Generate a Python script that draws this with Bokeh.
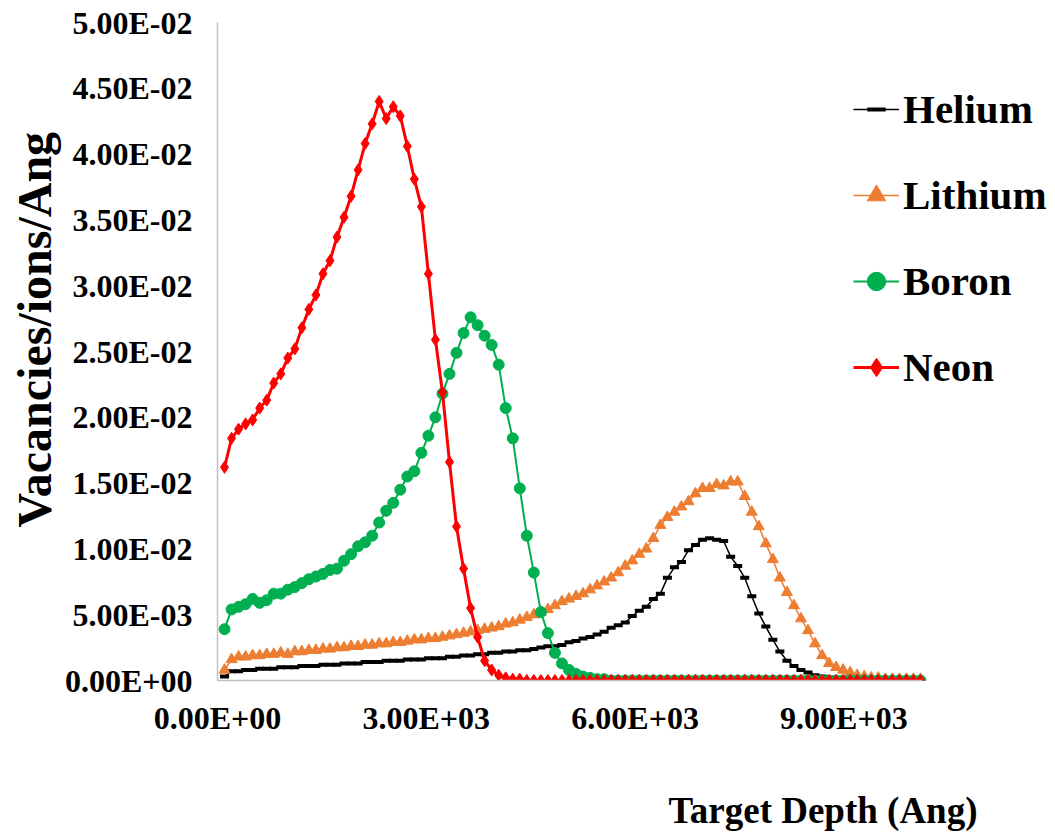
import math
from bokeh.plotting import figure
from bokeh.models import (Range1d, Legend, LegendItem, Title, FixedTicker,
                          CustomJSTickFormatter)
from bokeh.embed import file_html
from bokeh.resources import INLINE

depth = [101, 202, 303, 404, 505, 606, 707, 808, 909, 1010,
         1111, 1212, 1313, 1414, 1515, 1616, 1717, 1818, 1919, 2020,
         2121, 2222, 2323, 2424, 2525, 2626, 2727, 2828, 2929, 3030,
         3131, 3232, 3333, 3434, 3535, 3636, 3737, 3838, 3939, 4040,
         4141, 4242, 4343, 4444, 4545, 4646, 4747, 4848, 4949, 5050,
         5151, 5252, 5353, 5454, 5555, 5656, 5757, 5858, 5959, 6060,
         6161, 6262, 6363, 6464, 6565, 6666, 6767, 6868, 6969, 7070,
         7171, 7272, 7373, 7474, 7575, 7676, 7777, 7878, 7979, 8080,
         8181, 8282, 8383, 8484, 8585, 8686, 8787, 8888, 8989, 9090,
         9191, 9292, 9393, 9494, 9595, 9696, 9797, 9898, 9999, 10100]

helium = [0.0003, 0.0007, 0.0007, 0.0008, 0.0008, 0.0009, 0.0009, 0.0009, 0.0010, 0.0010,
          0.0010, 0.0011, 0.0011, 0.0011, 0.0012, 0.0012, 0.0012, 0.0013, 0.0013, 0.0013,
          0.0014, 0.0014, 0.0014, 0.0015, 0.0015, 0.0015, 0.0016, 0.0016, 0.0016, 0.0017,
          0.0017, 0.0017, 0.0018, 0.0018, 0.0019, 0.0019, 0.0020, 0.0020, 0.0021, 0.0021,
          0.0022, 0.0022, 0.0023, 0.0023, 0.0024, 0.0025, 0.0026, 0.0026, 0.0027, 0.0029,
          0.0030, 0.0032, 0.0033, 0.0035, 0.0037, 0.0040, 0.0042, 0.0044, 0.0049, 0.0053,
          0.0056, 0.0062, 0.0066, 0.0078, 0.0086, 0.0090, 0.0099, 0.0103, 0.0107, 0.0108,
          0.0107, 0.0106, 0.0094, 0.0087, 0.0078, 0.0064, 0.0051, 0.0041, 0.0031, 0.0022,
          0.0015, 0.0011, 0.0008, 0.0006, 0.0004, 0.0003, 0.0002, 0.0002, 0.0001, 0.0001,
          0.0001, 0.0001, 0.0001, 0.0001, 0.0001, 0.0001, 0.0001, 0.0001, 0.0001, 0.0001]

lithium = [0.0008, 0.0016, 0.0018, 0.0018, 0.0019, 0.0019, 0.0020, 0.0020, 0.0021, 0.0020,
           0.0022, 0.0022, 0.0023, 0.0023, 0.0024, 0.0024, 0.0025, 0.0025, 0.0026, 0.0026,
           0.0027, 0.0027, 0.0028, 0.0028, 0.0029, 0.0029, 0.0030, 0.0031, 0.0031, 0.0032,
           0.0032, 0.0033, 0.0034, 0.0035, 0.0036, 0.0037, 0.0038, 0.0039, 0.0040, 0.0041,
           0.0043, 0.0044, 0.0046, 0.0048, 0.0050, 0.0052, 0.0054, 0.0057, 0.0060, 0.0062,
           0.0064, 0.0066, 0.0069, 0.0072, 0.0075, 0.0078, 0.0082, 0.0087, 0.0091, 0.0096,
           0.0100, 0.0108, 0.0118, 0.0124, 0.0128, 0.0132, 0.0136, 0.0142, 0.0146, 0.0146,
           0.0149, 0.0148, 0.0151, 0.0151, 0.0140, 0.0128, 0.0117, 0.0104, 0.0092, 0.0078,
           0.0067, 0.0057, 0.0047, 0.0038, 0.0028, 0.0019, 0.0013, 0.0010, 0.0008, 0.0006,
           0.0004, 0.0003, 0.0002, 0.0002, 0.0001, 0.0001, 0.0001, 0.0001, 0.0001, 0.0001]

boron = [0.0039, 0.0054, 0.0056, 0.0058, 0.0062, 0.0059, 0.0061, 0.0066, 0.0066, 0.0069,
         0.0071, 0.0074, 0.0077, 0.0079, 0.0081, 0.0084, 0.0085, 0.0091, 0.0096, 0.0102,
         0.0105, 0.0110, 0.0120, 0.0129, 0.0135, 0.0145, 0.0155, 0.0159, 0.0173, 0.0186,
         0.0200, 0.0218, 0.0233, 0.0249, 0.0264, 0.0276, 0.0270, 0.0262, 0.0255, 0.0240,
         0.0207, 0.0184, 0.0146, 0.0110, 0.0082, 0.0052, 0.0036, 0.0021, 0.0013, 0.0008,
         0.0005, 0.0003, 0.0002, 0.0001, 0.0001, 0.0000, 0.0000, 0.0000, 0.0000, 0.0000,
         0.0000, 0.0000, 0.0000, 0.0000, 0.0000, 0.0000, 0.0000, 0.0000, 0.0000, 0.0000,
         0.0000, 0.0000, 0.0000, 0.0000, 0.0000, 0.0000, 0.0000, 0.0000, 0.0000, 0.0000,
         0.0000, 0.0000, 0.0000, 0.0000, 0.0000, 0.0000, 0.0000, 0.0000, 0.0000, 0.0000,
         0.0000, 0.0000, 0.0000, 0.0000, 0.0000, 0.0000, 0.0000, 0.0000, 0.0000, 0.0000]

neon = [0.0162, 0.0184, 0.0191, 0.0195, 0.0198, 0.0207, 0.0213, 0.0226, 0.0233, 0.0245,
        0.0252, 0.0268, 0.0282, 0.0293, 0.0309, 0.0319, 0.0337, 0.0352, 0.0368, 0.0388,
        0.0408, 0.0423, 0.0440, 0.0427, 0.0436, 0.0429, 0.0406, 0.0381, 0.0360, 0.0309,
        0.0259, 0.0219, 0.0166, 0.0117, 0.0085, 0.0055, 0.0033, 0.0015, 0.0008, 0.0004,
        0.0002, 0.0001, 0.0001, 0.0000, 0.0000, 0.0000, 0.0000, 0.0000, 0.0000, 0.0000,
        0.0000, 0.0000, 0.0000, 0.0000, 0.0000, 0.0000, 0.0000, 0.0000, 0.0000, 0.0000,
        0.0000, 0.0000, 0.0000, 0.0000, 0.0000, 0.0000, 0.0000, 0.0000, 0.0000, 0.0000,
        0.0000, 0.0000, 0.0000, 0.0000, 0.0000, 0.0000, 0.0000, 0.0000, 0.0000, 0.0000,
        0.0000, 0.0000, 0.0000, 0.0000, 0.0000, 0.0000, 0.0000, 0.0000, 0.0000, 0.0000,
        0.0000, 0.0000, 0.0000, 0.0000, 0.0000, 0.0000, 0.0000, 0.0000, 0.0000, 0.0000]

series_names = ["Helium", "Lithium", "Boron", "Neon"]

x_ticks = [0, 3000, 6000, 9000]
x_tick_labels = ["0.00E+00", "3.00E+03", "6.00E+03", "9.00E+03"]
y_ticks = [0, 0.005, 0.01, 0.015, 0.02, 0.025, 0.03, 0.035, 0.04, 0.045, 0.05]
y_tick_labels = ["0.00E+00", "5.00E-03", "1.00E-02", "1.50E-02", "2.00E-02", "2.50E-02",
                 "3.00E-02", "3.50E-02", "4.00E-02", "4.50E-02", "5.00E-02"]

x_title = "Target Depth (Ang)"
y_title = "Vacancies/ions/Ang"

FONT = "Liberation Serif"

p = figure(width=1055, height=835, output_backend="svg", toolbar_location=None,
           x_range=Range1d(0, 12040), y_range=Range1d(0, 0.05),
           min_border_left=217, min_border_right=0,
           min_border_top=22, min_border_bottom=155)
p.outline_line_color = None
p.xgrid.visible = False
p.ygrid.visible = False
p.background_fill_color = "white"
p.border_fill_color = "white"

fmt_code = """
let best = 0; let bd = Infinity;
for (let i = 0; i < tv.length; i++) {
  const d = Math.abs(tv[i] - tick);
  if (d < bd) { bd = d; best = i; }
}
return tl[best];
"""
p.xaxis.ticker = FixedTicker(ticks=x_ticks)
p.yaxis.ticker = FixedTicker(ticks=y_ticks)
p.xaxis.formatter = CustomJSTickFormatter(args=dict(tv=x_ticks, tl=x_tick_labels), code=fmt_code)
p.yaxis.formatter = CustomJSTickFormatter(args=dict(tv=y_ticks, tl=y_tick_labels), code=fmt_code)
p.xaxis.bounds = (0, 10130)

for ax in (p.xaxis, p.yaxis):
    ax.axis_line_color = "#C0C0C0"
    ax.axis_line_width = 1.5
    ax.major_tick_line_color = None
    ax.minor_tick_line_color = None
    ax.major_tick_in = 0
    ax.major_tick_out = 0
    ax.minor_tick_in = 0
    ax.minor_tick_out = 0
    ax.major_label_text_font = FONT
    ax.major_label_text_font_style = "bold"
    ax.major_label_text_font_size = "32px"
    ax.major_label_text_color = "black"
p.xaxis.major_label_standoff = 19
p.yaxis.major_label_standoff = 25

# Helium
he_line = p.line(depth, helium, line_color="black", line_width=1.5)
he_mark = p.scatter(depth, helium, marker="dash", size=9, line_color="black", line_width=4)
# Lithium
li_line = p.line(depth, lithium, line_color="#ED7D31", line_width=1.5)
li_mark = p.scatter(depth, lithium, marker="triangle", size=11, fill_color="#ED7D31",
                    line_color="#ED7D31", line_width=1)
# Boron
b_line = p.line(depth, boron, line_color="#00B050", line_width=2)
b_mark = p.scatter(depth, boron, marker="circle", size=11, fill_color="#00B050",
                   line_color="#00B050", line_width=1)
# Neon
ne_line = p.line(depth, neon, line_color="#FF0000", line_width=3)
ne_mark = p.scatter(depth, neon, marker="diamond", size=12,
                    fill_color="#FF0000", line_color="#FF0000", line_width=1)

items = [
    LegendItem(label=series_names[0], renderers=[he_line, he_mark]),
    LegendItem(label=series_names[1], renderers=[li_line, li_mark]),
    LegendItem(label=series_names[2], renderers=[b_line, b_mark]),
    LegendItem(label=series_names[3], renderers=[ne_line, ne_mark]),
]
legend = Legend(items=items, location=(636, 289), padding=0, margin=0,
                glyph_width=46, glyph_height=46, label_height=46, spacing=38,
                label_standoff=4, border_line_color=None, background_fill_alpha=0,
                label_text_font=FONT, label_text_font_style="bold",
                label_text_font_size="41px", label_text_color="black")
p.add_layout(legend)

# spacer panel between the x tick labels and the x-axis title
p.add_layout(Title(text=" ", standoff=7, text_font=FONT, text_font_size="36px",
                   text_color="white"), "below")
p.add_layout(Title(text=x_title, align="left", offset=451, standoff=0,
                   text_font=FONT, text_font_style="bold", text_font_size="37px",
                   text_color="black"), "below")
p.add_layout(Title(text=y_title, align="left", offset=153, standoff=1,
                   text_font=FONT, text_font_style="bold", text_font_size="48px",
                   text_color="black"), "left")

open("out.html", "w").write(file_html(p, INLINE))
